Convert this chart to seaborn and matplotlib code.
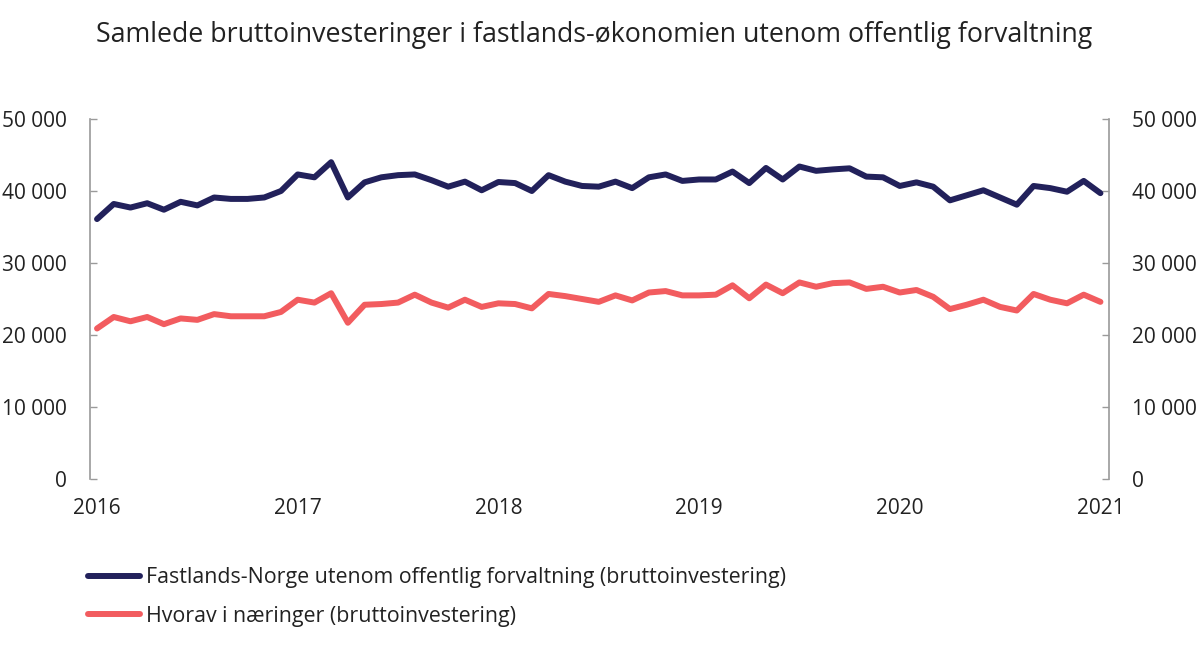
import pandas as pd
import matplotlib
matplotlib.use("Agg")
import matplotlib.pyplot as plt
from matplotlib.ticker import FuncFormatter
import seaborn as sns

# monthly values, Jan 2016 - Jan 2021 (mill. kr)
fastland = [36100, 38200, 37700, 38300, 37400, 38500, 38000, 39100, 38900, 38900, 39100, 40000,
            42300, 41900, 44000, 39100, 41200, 41900, 42200, 42300, 41500, 40600, 41300, 40100,
            41250, 41100, 40000, 42200, 41300, 40700, 40600, 41300, 40400, 41900, 42300, 41400,
            41600, 41600, 42700, 41100, 43200, 41600, 43400, 42800, 43000, 43150, 42000, 41900,
            40700, 41200, 40600, 38700, 39400, 40100, 39100, 38100, 40700, 40400, 39900, 41400,
            39700]
naeringer = [20900, 22500, 21900, 22500, 21500, 22300, 22100, 22900, 22600, 22600, 22600, 23200,
             24900, 24500, 25800, 21700, 24200, 24300, 24500, 25600, 24500, 23800, 24900, 23900,
             24400, 24300, 23700, 25700, 25400, 25000, 24600, 25500, 24800, 25900, 26100, 25500,
             25500, 25600, 26900, 25100, 27000, 25800, 27300, 26700, 27200, 27300, 26400, 26700,
             25900, 26250, 25300, 23600, 24200, 24900, 23900, 23400, 25700, 24900, 24400, 25600,
             24600]
series_names = ["Fastlands-Norge utenom offentlig forvaltning (bruttoinvestering)",
                "Hvorav i næringer (bruttoinvestering)"]
colors = ["#22215B", "#F25C5F"]
years = ["2016", "2017", "2018", "2019", "2020", "2021"]
title = "Samlede bruttoinvesteringer i fastlands-økonomien utenom offentlig forvaltning"

months = list(range(len(fastland)))
df = pd.DataFrame({"month": months * 2,
                   "value": fastland + naeringer,
                   "serie": [series_names[0]] * len(fastland) + [series_names[1]] * len(naeringer)})

sns.set_style("white")
plt.rcParams['font.family'] = ['Open Sans', 'DejaVu Sans']

fig = plt.figure(figsize=(12, 6.45), dpi=100)
ax = fig.add_axes([0.075, 0.2574, 0.849, 0.5581])

sns.lineplot(data=df, x="month", y="value", hue="serie", palette=colors,
             linewidth=4.3, ax=ax, legend=True)

ax.set_ylim(0, 50000)
ax.set_yticks(range(0, 50001, 10000))
ax.yaxis.set_major_formatter(FuncFormatter(lambda v, p: '{:,.0f}'.format(v).replace(',', ' ')))
ax.set_xlim(-0.42, 60.5)
ax.set_xticks(range(0, 61, 12))
ax.set_xticklabels(years)
ax.set_xlabel("")
ax.set_ylabel("")

for s in ["top", "bottom"]:
    ax.spines[s].set_visible(False)
for s in ["left", "right"]:
    ax.spines[s].set_color("#9a9a9a")
    ax.spines[s].set_linewidth(1.2)

ax.yaxis.set_ticks_position("both")
ax.tick_params(axis="y", direction="in", length=5, width=1, color="#9a9a9a",
               labelsize=15, labelcolor="#222222", pad=17, labelright=True)
ax.tick_params(axis="x", length=0, labelsize=15, labelcolor="#222222", pad=14)

fig.suptitle(title, x=0.495, y=0.968, fontsize=19.3, color="#222222")

handles, labels = ax.get_legend_handles_labels()
ax.legend_.remove()
fig.legend(handles, labels, loc="upper left", bbox_to_anchor=(0.057, 0.15),
           frameon=False, fontsize=15.4, handlelength=2.45, handletextpad=0.3,
           labelspacing=0.8, labelcolor="#222222")

fig.savefig("out.png", dpi=100)
